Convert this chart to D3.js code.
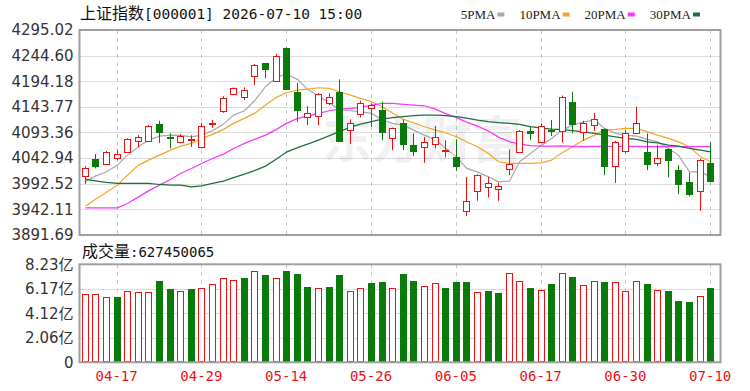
<!DOCTYPE html>
<html>
<head>
<meta charset="utf-8">
<script src="https://cdn.jsdelivr.net/npm/d3@7"></script>
<style>
  body { margin: 0; background: #fff; }
  svg { display: block; }
</style>
</head>
<body>
<div id="chart"></div>
<script>
// trading days shown (index 0..59)
const dates = ["04-14","04-15","04-16","04-17","04-20","04-21","04-22","04-23","04-24","04-27",
  "04-28","04-29","04-30","05-06","05-07","05-08","05-11","05-12","05-13","05-14",
  "05-15","05-18","05-19","05-20","05-21","05-22","05-25","05-26","05-27","05-28",
  "05-29","06-01","06-02","06-03","06-04","06-05","06-08","06-09","06-10","06-11",
  "06-12","06-15","06-16","06-17","06-18","06-22","06-23","06-24","06-25","06-26",
  "06-29","06-30","07-01","07-02","07-03","07-06","07-07","07-08","07-09","07-10"];

const opens = [4008,4041,4031,4042.3,4055.3,4077,4076.4,4109.3,4084,4075,
  4080,4064,4110,4136,4170,4163.7,4204.4,4229.4,4195.2,4259,
  4172.3,4124.3,4125.6,4151.8,4173.5,4098.1,4129.6,4140.8,4137.5,4081.7,
  4111.3,4068.5,4064,4070.5,4056,4045.5,3939.1,3978.5,3986.4,3981.3,
  4020.6,4055.3,4096,4075,4099,4096.7,4153.8,4094.7,4107.9,4099.5,
  4027.2,4057.3,4091.6,4054.2,4032.5,4060.1,4019.3,3996.3,3977.9,4032.5];
const highs = [4027,4051,4057,4060,4082,4088.2,4108,4116.4,4091.6,4090,
  4088,4112,4118,4165,4182,4182.2,4228,4230,4247.8,4261,
  4191.2,4145.3,4171,4170.4,4197.9,4119.1,4155.8,4150.7,4153.8,4103,
  4119.1,4091.6,4084.9,4106,4078.4,4079.8,4006.1,4011,4006.1,3994.3,
  4060.1,4098,4104.6,4111.3,4117.8,4166,4173.5,4116.4,4132.1,4101.4,
  4077,4098.1,4144,4091.6,4068.5,4062,4029.1,4014,4041.6,4075];
const lows = [3992,4022.6,4030.5,4039,4054,4064,4075,4073,4062,4072,
  4065,4062,4103,4132,4168,4157.2,4186.7,4199.9,4194,4177,
  4114.4,4107.9,4108,4147.3,4076,4070.5,4123,4104.6,4078.4,4058.7,
  4058.7,4046.9,4033.7,4062,4044.3,4017.9,3928.7,3958.9,3965.5,3958.9,
  4009.4,4054,4078.4,4074,4086.3,4073.1,4091.6,4077,4096.7,4009.4,
  3994.3,4052.2,4091,4019.3,4027.2,4004.9,3972.1,3968.1,3939.1,3997];
const closes = [4024,4028,4055.3,4050.8,4080.9,4084.9,4106.6,4094.8,4082,4086,
  4081,4106,4112,4160.5,4180,4177,4226.1,4218.2,4244.4,4178.2,
  4137.5,4132.1,4169,4162.5,4077,4111.3,4151.8,4147.3,4094.7,4101.4,
  4070.5,4057.3,4075,4083.7,4058,4027.2,3958.9,4009.4,3993.1,3987.8,
  4031.1,4096.7,4093,4106,4096,4163.7,4110,4113,4120.3,4027.2,
  4074.4,4092.8,4112.5,4030.5,4042.3,4040,3991.7,3971.4,4039,3998.2];

// moving averages as drawn
const ma5 = [3996.3,4007.5,4016.0,4029.2,4048.9,4065.2,4078.4,4086.3,4088.2,4087.6,
  4084.9,4088.2,4096.7,4109.9,4127.6,4136.1,4155.8,4183.4,4201.9,4208.4,
  4197.9,4178.2,4165.0,4151.8,4137.5,4136.1,4134.1,4131.0,4117.8,4111.3,
  4107.9,4098.1,4088.2,4078.4,4062.6,4045.5,4023.2,4015.4,4006.1,3996.3,
  3997.6,4035.7,4052.2,4068.5,4081.7,4098.1,4107.9,4114.4,4117.8,4101.4,
  4091.6,4088.2,4086.3,4079.8,4075.0,4062.0,4048.9,4016.0,4016.0,4006.1];
const ma10 = [3948.4,3962.2,3976.0,3989.8,4009.5,4029.2,4039.0,4048.9,4058.7,4066.6,
  4071.9,4081.7,4089.6,4099.5,4111.3,4121.1,4131.0,4147.3,4162.5,4171.5,
  4176.9,4178.8,4181.4,4180.2,4173.5,4167.0,4160.5,4153.8,4143.4,4131.6,
  4119.1,4112.5,4104.6,4098.1,4092.8,4084.9,4075.0,4065.2,4052.2,4035.7,
  4032.5,4032.5,4032.5,4033.7,4039.0,4053.8,4065.2,4078.4,4088.2,4098.1,
  4099.5,4101.4,4101.4,4094.7,4088.2,4081.7,4075.0,4065.2,4045.5,4035.7];
const ma20 = [3945.1,3945.1,3945.1,3945.1,3953.7,3966.7,3978.5,3989.8,4001.0,4012.8,
  4022.6,4032.5,4042.3,4050.8,4062.0,4071.9,4079.8,4088.2,4099.5,4111.3,
  4121.1,4125.6,4131.0,4136.1,4139.4,4140.8,4142.8,4147.3,4150.7,4150.7,
  4148.7,4147.3,4145.9,4139.4,4130.6,4122.7,4113.8,4106.0,4096.1,4084.3,
  4075.4,4070.5,4067.6,4066.6,4066.6,4067.2,4066.0,4065.6,4066.0,4066.0,
  4065.6,4066.0,4066.0,4065.6,4065.6,4066.0,4065.6,4065.6,4065.6,4065.6];
const ma30 = [4001.0,3998.2,3995.1,3993.1,3993.1,3993.1,3993.1,3991.1,3989.8,3989.8,
  3986.4,3988.4,3993.1,3997.6,4004.5,4011.4,4018.3,4027.2,4041.0,4054.8,
  4063.6,4070.5,4078.4,4087.3,4095.1,4104.0,4109.9,4114.8,4119.7,4122.7,
  4124.7,4126.6,4127.6,4127.6,4126.6,4124.7,4121.7,4117.8,4114.8,4112.9,
  4111.3,4109.3,4105.0,4102.0,4100.0,4099.1,4097.1,4094.7,4091.6,4088.2,
  4084.9,4081.7,4079.8,4075.0,4073.1,4068.5,4066.6,4062.0,4058.7,4055.4];

// volume in 亿 (100 million)
const volumes = [5.74,5.74,5.51,5.51,5.99,5.88,5.88,6.83,6.13,5.99,
  6.13,6.21,6.58,7.05,6.91,7.05,7.67,7.33,7.05,7.67,
  7.44,6.35,6.21,6.35,7.33,5.99,6.21,6.63,6.72,6.21,
  7.42,6.83,6.43,6.69,6.21,6.72,6.72,5.88,6.01,5.79,
  7.52,6.83,6.21,6.07,6.58,7.52,7.19,6.49,6.83,6.72,
  6.72,5.99,6.83,6.58,6.07,6.01,5.17,5.04,5.59,6.27];
const lastVolume = "627450065";

const priceTicks = [3891.69,3942.11,3992.52,4042.94,4093.36,4143.77,4194.18,4244.60,4295.02];
const volTicks = [0,2.06,4.12,6.17,8.23];
const tickDates = ["04-17","04-29","05-14","05-26","06-05","06-17","06-30","07-10"];

const maNames = ["5PMA","10PMA","20PMA","30PMA"];
const maColors = ["#a8a8a8","#f5a623","#ff33ff","#1e6e3c"];
const maSeries = [ma5, ma10, ma20, ma30];

const RED = "#ee1111", GREEN = "#0a7a0a";
const W = 750, H = 391;
const left = 79.5, right = 720.5;
const top1 = 30, bot1 = 235;
const top2 = 264.3, bot2 = 362.3;

const svg = d3.select("#chart").append("svg")
  .attr("width", W).attr("height", H)
  .attr("viewBox", `0 0 ${W} ${H}`);

const x = d3.scaleBand().domain(d3.range(dates.length)).range([79.5, 715.5]);
const cx = i => Math.round(x(i) + x.bandwidth() / 2);
const y = d3.scaleLinear().domain([priceTicks[0], priceTicks[priceTicks.length - 1]]).range([bot1, top1]);
const yv = d3.scaleLinear().domain([0, volTicks[volTicks.length - 1]]).range([bot2, top2]);

const tickIdx = tickDates.map(d => dates.indexOf(d));

// grid
const grid = svg.append("g");
grid.selectAll("line.h1").data(priceTicks.slice(1, -1)).join("line")
  .attr("x1", left).attr("x2", right)
  .attr("y1", d => Math.round(y(d)) + 0.5).attr("y2", d => Math.round(y(d)) + 0.5)
  .attr("stroke", "#dcdcdc");
grid.selectAll("line.h2").data(volTicks.slice(1, -1)).join("line")
  .attr("x1", left).attr("x2", right)
  .attr("y1", d => Math.round(yv(d)) + 0.5).attr("y2", d => Math.round(yv(d)) + 0.5)
  .attr("stroke", "#dcdcdc");
[[top1, bot1], [top2, bot2]].forEach(([t, b]) => {
  grid.append("g").selectAll("line").data(tickIdx).join("line")
    .attr("x1", i => cx(i) + 0.5).attr("x2", i => cx(i) + 0.5)
    .attr("y1", t).attr("y2", b)
    .attr("stroke", "#c8c8c8").attr("stroke-dasharray", "4,4");
});

// watermark
svg.append("text")
  .attr("x", 322).attr("y", 158)
  .attr("font-family", "Noto Sans CJK SC").attr("font-size", 50).attr("font-weight", 700)
  .attr("fill", "#000").attr("fill-opacity", 0.06)
  .text("东方财富");

// moving averages
const line = d3.line().x((d, i) => cx(i) + 0.5).y(d => y(d));
svg.append("g").selectAll("path").data(maSeries).join("path")
  .attr("d", line)
  .attr("fill", "none")
  .attr("stroke", (d, k) => maColors[k])
  .attr("stroke-width", 1.2);

// candles
const idx = d3.range(dates.length);
const candles = svg.append("g").selectAll("g").data(idx).join("g");
const isUp = i => closes[i] >= opens[i];
candles.append("line")
  .attr("x1", i => cx(i) + 0.5).attr("x2", i => cx(i) + 0.5)
  .attr("y1", i => y(highs[i])).attr("y2", i => y(lows[i]))
  .attr("stroke", i => isUp(i) ? RED : GREEN);
candles.append("rect")
  .attr("x", i => cx(i) - 2.5)
  .attr("width", 6)
  .attr("y", i => Math.round(y(Math.max(opens[i], closes[i]))) + 0.5)
  .attr("height", i => Math.max(1, Math.round(y(Math.min(opens[i], closes[i]))) - Math.round(y(Math.max(opens[i], closes[i])))))
  .attr("fill", i => isUp(i) ? "#fff" : GREEN)
  .attr("stroke", i => isUp(i) ? RED : GREEN);

// volume bars (colour by change against previous close)
const volUp = i => i === 0 || closes[i] >= closes[i - 1];
svg.append("g").selectAll("rect").data(idx).join("rect")
  .attr("x", i => cx(i) - 2.5)
  .attr("width", 6)
  .attr("y", i => Math.round(yv(volumes[i])) + 0.5)
  .attr("height", i => Math.round(yv(0)) - Math.round(yv(volumes[i])) - 1)
  .attr("fill", i => volUp(i) ? "#fff" : GREEN)
  .attr("stroke", i => volUp(i) ? RED : GREEN);

// frames
[[top1, bot1], [top2, bot2]].forEach(([t, b]) => {
  svg.append("rect")
    .attr("x", left).attr("y", t).attr("width", right - left).attr("height", b - t)
    .attr("fill", "none").attr("stroke", "#a0a0a0").attr("stroke-width", 2);
});

// axes
const yAxis = svg.append("g")
  .attr("transform", `translate(${left - 1},0)`)
  .call(d3.axisLeft(y).tickValues(priceTicks).tickFormat(d => d.toFixed(2)).tickSize(0).tickPadding(5));
const vAxis = svg.append("g")
  .attr("transform", `translate(${left - 1},0)`)
  .call(d3.axisLeft(yv).tickValues(volTicks).tickFormat(d => d === 0 ? "0" : d.toFixed(2) + "亿").tickSize(0).tickPadding(5));
[yAxis, vAxis].forEach(g => {
  g.select(".domain").remove();
  g.selectAll("text")
    .attr("font-family", "DejaVu Sans, Noto Sans CJK SC")
    .attr("font-size", 15).attr("fill", "#333");
});
const xAxis = svg.append("g")
  .attr("transform", `translate(0,${bot2})`)
  .call(d3.axisBottom(x).tickValues(tickIdx).tickFormat(i => dates[i]).tickSize(0).tickPadding(9));
xAxis.select(".domain").remove();
xAxis.selectAll("text")
  .attr("font-family", "DejaVu Sans Mono").attr("font-size", 14).attr("fill", RED);

// title
const title = svg.append("text").attr("x", 80).attr("y", 19).attr("fill", "#111");
title.append("tspan").attr("font-family", "Noto Sans CJK SC").attr("font-size", 16).text("上证指数");
title.append("tspan").attr("font-family", "DejaVu Sans Mono").attr("font-size", 14.5).text("[000001] 2026-07-10 15:00");

const vTitle = svg.append("text").attr("x", 82).attr("y", 257).attr("fill", "#111");
vTitle.append("tspan").attr("font-family", "Noto Sans CJK SC").attr("font-size", 16).text("成交量");
vTitle.append("tspan").attr("font-family", "DejaVu Sans Mono").attr("font-size", 14).text(":" + lastVolume);

// legend
let lx = 460.7;
maNames.forEach((name, k) => {
  const t = svg.append("text").attr("x", lx).attr("y", 18.5)
    .attr("font-family", "Liberation Serif").attr("font-size", 13).attr("fill", "#222")
    .text(name);
  const w = t.node().getComputedTextLength();
  svg.append("rect").attr("x", lx + w + 2).attr("y", 12.5).attr("width", 7).attr("height", 4)
    .attr("fill", maColors[k]);
  lx += w + 2 + 7 + 15;
});
</script>
</body>
</html>
